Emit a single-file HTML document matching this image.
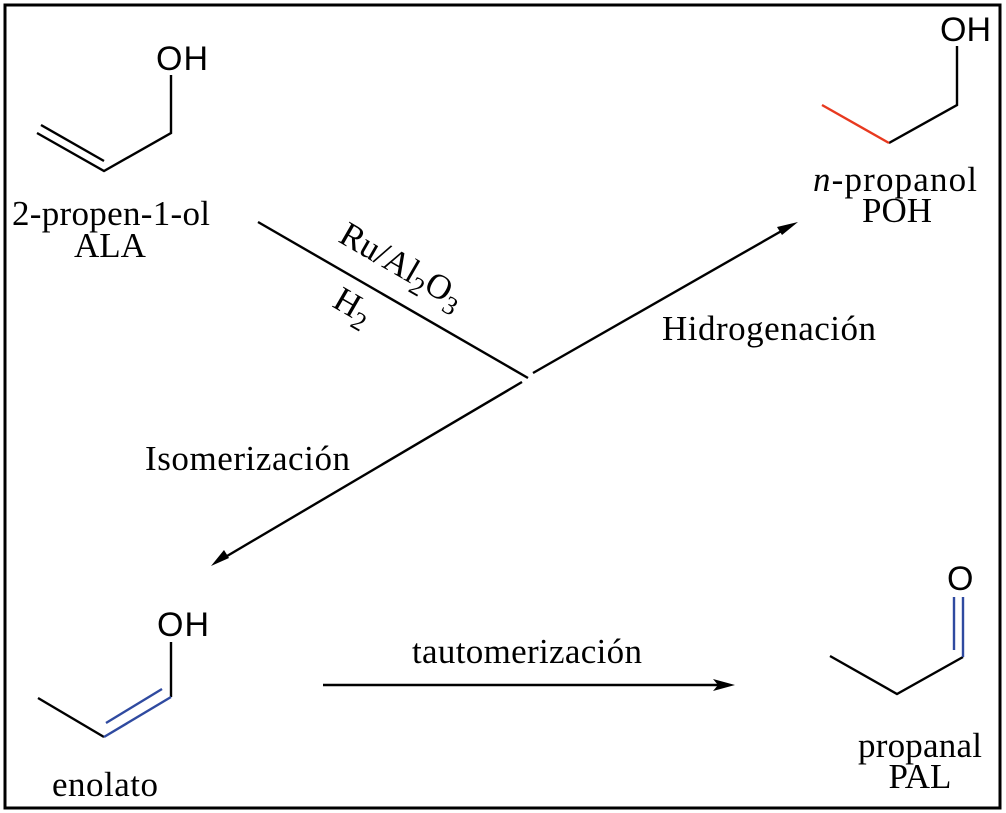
<!DOCTYPE html>
<html><head><meta charset="utf-8"><style>
html,body{margin:0;padding:0;background:#fff;}
svg{display:block;}
.t{font-family:"Liberation Serif",serif;font-size:35px;fill:#000;}
.s{font-family:"Liberation Sans",sans-serif;font-size:34px;fill:#000;}
</style></head><body>
<svg width="1006" height="813" viewBox="0 0 1006 813" xmlns="http://www.w3.org/2000/svg">
<rect x="5" y="5" width="995" height="803" fill="none" stroke="#000" stroke-width="3"/>
<g stroke="#000" stroke-width="2.4" fill="none">
<polyline points="171,75 171,133 104,171 37,133"/>
<line x1="41" y1="125" x2="104" y2="161"/>
<polyline points="957,46 957,105 889,143"/>
<polyline points="171,642 171,697"/>
<line x1="104" y1="737" x2="38" y2="698"/>
<polyline points="830,656 897,694 963,657"/>
<line x1="258" y1="222" x2="528" y2="378"/>
<line x1="533" y1="373" x2="785" y2="229"/>
<line x1="522" y1="382" x2="222" y2="559"/>
<line x1="323" y1="685" x2="722" y2="685"/>
</g>
<line x1="889" y1="143" x2="822" y2="105" stroke="#e8391f" stroke-width="2.4"/>
<g stroke="#2f4aa0" stroke-width="2.4">
<line x1="171" y1="697" x2="104" y2="737"/>
<line x1="162" y1="689" x2="106" y2="723"/>
<line x1="954" y1="597" x2="954" y2="650"/>
<line x1="963" y1="597" x2="963" y2="657"/>
</g>
<g fill="#000">
<polygon points="798,222 777,227 782,235"/>
<polygon points="211,566 224,550 229,558"/>
<polygon points="735,685 713,679 718,685 713,691"/>
</g>
<text class="s" x="156" y="70" textLength="52">OH</text>
<text class="s" x="940" y="41">OH</text>
<text class="s" x="157" y="636" textLength="52">OH</text>
<text class="s" x="947" y="590">O</text>
<text class="t" x="12" y="225" textLength="198">2-propen-1-ol</text>
<text class="t" x="110" y="257" text-anchor="middle">ALA</text>
<text class="t" x="813" y="191" textLength="164"><tspan font-style="italic">n</tspan>-propanol</text>
<text class="t" x="897" y="222" text-anchor="middle">POH</text>
<text class="t" x="662" y="340" textLength="214">Hidrogenación</text>
<text class="t" x="145" y="470" textLength="205">Isomerización</text>
<text class="t" x="412" y="663" textLength="230">tautomerización</text>
<text class="t" x="52" y="796" textLength="106">enolato</text>
<text class="t" x="858" y="757" textLength="124">propanal</text>
<text class="t" x="920" y="788" text-anchor="middle">PAL</text>
<text class="t" transform="translate(337,241) rotate(30)">Ru/Al<tspan font-size="26" dy="8">2</tspan><tspan dy="-8">O</tspan><tspan font-size="26" dy="8">3</tspan></text>
<text class="t" transform="translate(331,306) rotate(30)">H<tspan font-size="26" dy="8">2</tspan></text>
</svg>
</body></html>
